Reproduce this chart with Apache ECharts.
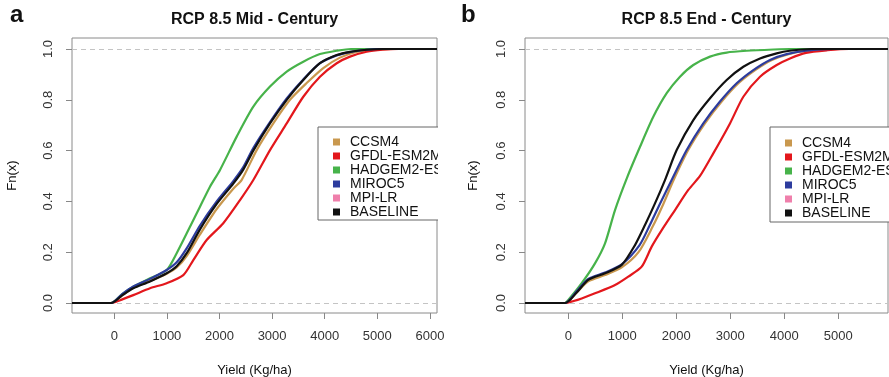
<!DOCTYPE html>
<html>
<head>
<meta charset="utf-8">
<script src="https://cdn.jsdelivr.net/npm/echarts@6/dist/echarts.min.js"></script>
<style>
html,body{margin:0;padding:0;background:#fff;}
#chart{width:889px;height:377px;}
</style>
</head>
<body>
<div id="chart"></div>
<script>
// ---------- data (Yield kg/ha, Fn(x)) ----------
const seriesNames = ['CCSM4', 'GFDL-ESM2M', 'HADGEM2-ES', 'MIROC5', 'MPI-LR', 'BASELINE'];
const xTicksMid = [0, 1000, 2000, 3000, 4000, 5000, 6000];
const xTicksEnd = [0, 1000, 2000, 3000, 4000, 5000];
const yTicks = [0, 0.2, 0.4, 0.6, 0.8, 1.0];

// Panel a: RCP 8.5 Mid-Century
const midCCSM4 = [[-60,0],[150,0.03],[361,0.06],[679,0.087],[996,0.115],[1186,0.14],[1376,0.185],[1629,0.27],[1947,0.37],[2262,0.45],[2420,0.484],[2707,0.602],[3023,0.707],[3340,0.80],[3657,0.866],[3973,0.925],[4290,0.966],[4600,0.988],[5000,0.998],[5300,1]];
const midGFDL = [[-60,0],[100,0.01],[361,0.031],[679,0.058],[996,0.078],[1312,0.11],[1502,0.169],[1756,0.248],[2072,0.314],[2390,0.405],[2643,0.484],[2960,0.602],[3278,0.707],[3593,0.812],[3910,0.891],[4228,0.944],[4481,0.970],[4798,0.989],[5100,0.997],[5400,1]];
const midHADGEM = [[-60,0],[150,0.035],[361,0.064],[679,0.097],[996,0.13],[1186,0.196],[1439,0.30],[1629,0.379],[1819,0.458],[2010,0.524],[2327,0.655],[2643,0.773],[2960,0.852],[3278,0.911],[3593,0.95],[3910,0.98],[4228,0.993],[4500,1]];
const midMIROC5 = [[-60,0],[150,0.035],[361,0.065],[679,0.095],[996,0.13],[1186,0.16],[1376,0.215],[1629,0.305],[1947,0.40],[2262,0.48],[2452,0.535],[2643,0.61],[2960,0.712],[3278,0.805],[3593,0.88],[3910,0.944],[4228,0.975],[4481,0.988],[4800,0.997],[5000,1]];
const midMPI = [];
const midBASE = [[-60,0],[150,0.03],[361,0.058],[679,0.085],[996,0.117],[1186,0.145],[1376,0.196],[1629,0.29],[1947,0.39],[2262,0.47],[2452,0.525],[2643,0.60],[2960,0.707],[3278,0.80],[3593,0.878],[3910,0.944],[4228,0.976],[4481,0.989],[4800,0.997],[5100,1]];

// Panel b: RCP 8.5 End-Century
const endCCSM4 = [[-60,0],[150,0.04],[370,0.085],[680,0.11],[989,0.14],[1300,0.2],[1560,0.3],[1760,0.39],[1950,0.484],[2220,0.602],[2530,0.707],[2840,0.793],[3150,0.865],[3460,0.917],[3770,0.957],[4080,0.98],[4400,0.992],[4900,1]];
const endGFDL = [[-60,0],[100,0.008],[248,0.018],[494,0.038],[865,0.071],[1111,0.104],[1359,0.143],[1544,0.222],[1730,0.287],[1976,0.366],[2222,0.445],[2439,0.50],[2685,0.589],[2994,0.707],[3241,0.812],[3550,0.891],[3859,0.937],[4105,0.963],[4400,0.985],[4800,0.995],[5200,1]];
const endHADGEM = [[-60,0],[0,0.012],[248,0.078],[494,0.156],[680,0.235],[865,0.366],[1081,0.49],[1328,0.615],[1574,0.733],[1822,0.826],[2068,0.891],[2315,0.937],[2624,0.970],[2933,0.986],[3304,0.993],[3800,0.998],[4100,1]];
const endMIROC5 = [[-60,0],[150,0.045],[370,0.095],[680,0.12],[989,0.152],[1320,0.228],[1510,0.307],[1700,0.392],[1914,0.484],[2192,0.602],[2500,0.707],[2809,0.793],[3118,0.865],[3426,0.917],[3735,0.957],[4044,0.98],[4400,0.993],[4900,1]];
const endMPI = [];
const endBASE = [[-60,0],[150,0.04],[370,0.091],[680,0.117],[989,0.15],[1235,0.228],[1420,0.307],[1605,0.392],[1790,0.484],[2007,0.602],[2315,0.72],[2624,0.806],[2933,0.878],[3241,0.930],[3550,0.963],[3859,0.983],[4100,0.993],[4500,1]];

// ---------- styling ----------
const FONT = '"Liberation Sans", Arial, Helvetica, sans-serif';
const colors = ['#c9984e', '#e3171c', '#47b34a', '#2d3c9e', '#ef7fab', '#111111'];
const X_MIN_A = -804, X_MAX_A = 6135;
const X_MIN_B = -802, X_MAX_B = 5920;
const Y_MIN = -0.0394, Y_MAX = 1.0433;

const midData = [midCCSM4, midGFDL, midHADGEM, midMIROC5, midMPI, midBASE];
const endData = [endCCSM4, endGFDL, endHADGEM, endMIROC5, endMPI, endBASE];

function buildSeries(dataList, idx, xmin, xmax) {
  return dataList.map((pts, i) => {
    const data = pts.length ? [[xmin, 0]].concat(pts, [[xmax, 1]]) : [];
    const s = {
      name: seriesNames[i], type: 'line', xAxisIndex: idx, yAxisIndex: idx,
      data: data, showSymbol: false, symbol: 'none', clip: true,
      smooth: 0.25,
      color: colors[i], lineStyle: { color: colors[i], width: 2.2 },
      animation: false, silent: true, z: 3 + i
    };
    if (i === 0) {
      s.markLine = {
        silent: true, symbol: ['none', 'none'], label: { show: false }, animation: false,
        lineStyle: { type: [5, 4], color: '#c4c4c4', width: 1 },
        data: [{ yAxis: 0 }, { yAxis: 1 }]
      };
    }
    return s;
  });
}

function xAxis(idx, min, max, ticks) {
  return {
    type: 'value', gridIndex: idx, min: min, max: max,
    axisLine: { show: false, onZero: false },
    axisTick: { show: true, customValues: ticks, length: 6, lineStyle: { color: '#888' } },
    axisLabel: { customValues: ticks, fontSize: 13, color: '#333', margin: 17, fontFamily: FONT,
      formatter: v => String(Math.round(v)) },
    splitLine: { show: false }
  };
}
function yAxis(idx) {
  return {
    type: 'value', gridIndex: idx, min: Y_MIN, max: Y_MAX,
    axisLine: { show: false, onZero: false },
    axisTick: { show: true, customValues: yTicks, length: 6, lineStyle: { color: '#888' } },
    axisLabel: { customValues: yTicks, rotate: 90, fontSize: 13, color: '#333', margin: 17, fontFamily: FONT,
      formatter: v => v.toFixed(1) },
    splitLine: { show: false }
  };
}
function legend(left, top, pad) {
  return {
    data: seriesNames, orient: 'vertical', left: left, top: top,
    icon: 'rect', itemWidth: 7, itemHeight: 7, itemGap: 0, selectedMode: false,
    borderColor: '#666', borderWidth: 1, borderRadius: 0, padding: pad,
    backgroundColor: '#fff',
    textStyle: { fontSize: 14, lineHeight: 13.6, color: '#111', fontFamily: FONT, padding: [0, 0, 0, 5] }
  };
}
function txt(x, y, text, size, bold, rot) {
  return {
    type: 'text', x: x, y: y, rotation: rot || 0, z: 200,
    style: { text: text, x: 0, y: 0, fill: '#111', align: 'center', verticalAlign: 'middle',
      font: (bold ? 'bold ' : '') + size + 'px ' + FONT }
  };
}

const chart = echarts.init(document.getElementById('chart'), null, { renderer: 'canvas' });
chart.setOption({
  animation: false,
  backgroundColor: '#fff',
  grid: [
    { left: 72, top: 38, width: 365, height: 275, show: true, borderColor: '#8a8a8a', borderWidth: 1, backgroundColor: 'transparent', containLabel: false },
    { left: 525, top: 38, width: 363, height: 275, show: true, borderColor: '#8a8a8a', borderWidth: 1, backgroundColor: 'transparent', containLabel: false }
  ],
  xAxis: [xAxis(0, X_MIN_A, X_MAX_A, xTicksMid), xAxis(1, X_MIN_B, X_MAX_B, xTicksEnd)],
  yAxis: [yAxis(0), yAxis(1)],
  legend: [legend(318, 127, [8, 14, 1, 15]), legend(770, 127, [9, 14, 2, 15])],
  series: buildSeries(midData, 0, X_MIN_A, X_MAX_A).concat(buildSeries(endData, 1, X_MIN_B, X_MAX_B)),
  graphic: [
    { type: 'rect', shape: { x: 438, y: 120, width: 30, height: 106 }, style: { fill: '#fff' }, z: 150, silent: true },
    txt(254.5, 20, 'RCP 8.5 Mid - Century', 16, true),
    txt(706.5, 20, 'RCP 8.5 End - Century', 16, true),
    { type: 'text', x: 10, y: 27, z: 200, style: { text: 'a', x: 0, y: 0, fill: '#111', align: 'left', verticalAlign: 'bottom', font: 'bold 24px ' + FONT } },
    { type: 'text', x: 461, y: 27, z: 200, style: { text: 'b', x: 0, y: 0, fill: '#111', align: 'left', verticalAlign: 'bottom', font: 'bold 24px ' + FONT } },
    txt(12, 175.5, 'Fn(x)', 13, false, Math.PI / 2),
    txt(473, 175.5, 'Fn(x)', 13, false, Math.PI / 2),
    txt(254.5, 370, 'Yield (Kg/ha)', 13, false),
    txt(706.5, 370, 'Yield (Kg/ha)', 13, false)
  ]
});
</script>
</body>
</html>
